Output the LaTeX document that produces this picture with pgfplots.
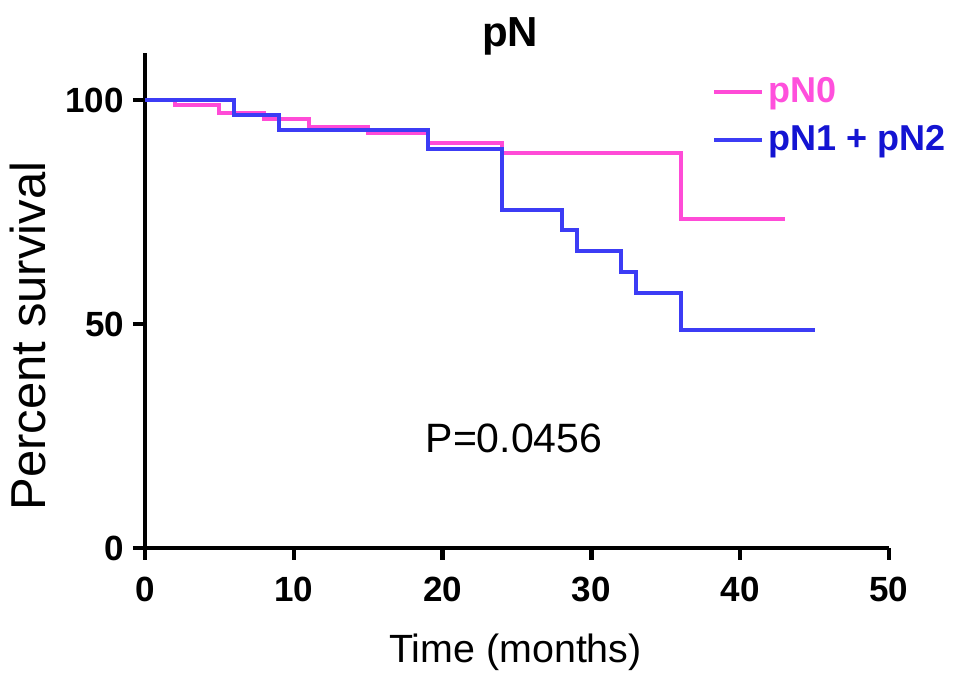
\documentclass[border=0pt]{standalone}
\usepackage{pgfplots}
\pgfplotsset{compat=1.18}
\usepackage{fontspec}
\setmainfont{Liberation Sans}
\definecolor{pinkL}{RGB}{255,75,215}
\definecolor{blueL}{RGB}{60,60,245}
\definecolor{pinkT}{RGB}{255,80,220}
\definecolor{blueT}{RGB}{20,20,210}
\begin{document}
\begin{tikzpicture}
\useasboundingbox (-72.5pt,-68pt) rectangle (412pt,274pt);
\begin{axis}[
  at={(0,0)}, anchor=south west,
  scale only axis, width=372pt, height=247.5pt,
  xmin=0, xmax=50, ymin=0, ymax=110.5,
  axis lines*=left,
  axis line style={line width=2.2pt, black},
  xtick={0,10,20,30,40,50}, ytick={0,50,100},
  tick align=outside, major tick length=6pt,
  tick style={line width=2.2pt, black},
  /pgf/number format/assume math mode=true,
  ticklabel style={font=\fontsize{17.5}{20}\selectfont\bfseries},
  xticklabel style={yshift=-5pt},
  yticklabel style={xshift=-1pt},
  clip=false,
  legend style={at={(rel axis cs:0.762,0.959)}, anchor=north west, draw=none, fill=none,
    font=\fontsize{18}{21}\selectfont\bfseries, row sep=6pt, inner sep=0pt,
    /tikz/every even column/.append style={column sep=8pt}},
  legend cell align=left,
  legend image code/.code={\draw[#1] (0pt,0pt) -- (24pt,0pt);},
]
\addplot[const plot, pinkL, line width=2pt] coordinates {
 (0,100) (2,98.9) (5,97.2) (8,95.7) (11,94.0) (15,92.6) (19,90.5) (24,88.2) (36,73.4) (43,73.4)};
\addlegendentry{\textcolor{pinkT}{pN0}}
\addplot[const plot, blueL, line width=2pt] coordinates {
 (0,100) (6,96.7) (9,93.3) (19,89.0) (24,75.4) (28,71.0) (29,66.4) (32,61.7) (33,56.9) (36,48.7) (45,48.7)};
\addlegendentry{\textcolor{blueT}{pN1 + pN2}}
\end{axis}
\node[anchor=base, font=\fontsize{21}{24}\selectfont\bfseries] at (182.5pt,250.5pt) {pN};
\node[anchor=base, font=\fontsize{20.5}{24}\selectfont] at (184.5pt,47.5pt) {P=0.0456};
\node[anchor=base, font=\fontsize{19.7}{24}\selectfont] at (185.25pt,-57.5pt) {Time (months)};
\node[rotate=90, font=\fontsize{24.5}{28}\selectfont] at (-58.5pt,106pt) {Percent survival};
\end{tikzpicture}
\end{document}
